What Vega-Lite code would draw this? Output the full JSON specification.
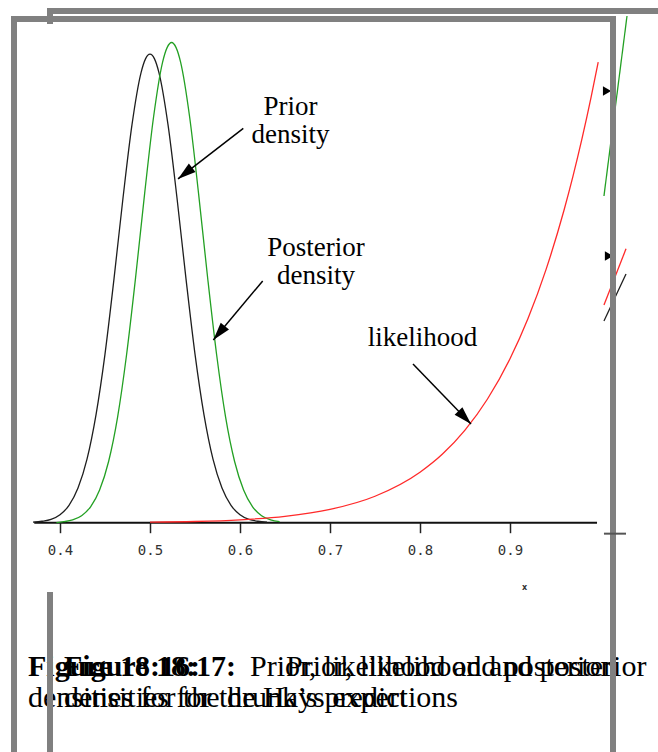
{
  "$schema": "https://vega.github.io/schema/vega-lite/v6.json",
  "width": 658,
  "height": 752,
  "autosize": {"type": "none"},
  "padding": 0,
  "background": "white",
  "config": {"view": {"stroke": null}},
  "datasets": {
    "curves": [
      {"series": "prior", "x": 0.37, "y": 0.01},
      {"series": "prior", "x": 0.38, "y": 0.03},
      {"series": "prior", "x": 0.39, "y": 0.07},
      {"series": "prior", "x": 0.40, "y": 0.17},
      {"series": "prior", "x": 0.41, "y": 0.37},
      {"series": "prior", "x": 0.42, "y": 0.74},
      {"series": "prior", "x": 0.43, "y": 1.36},
      {"series": "prior", "x": 0.44, "y": 2.31},
      {"series": "prior", "x": 0.45, "y": 3.61},
      {"series": "prior", "x": 0.46, "y": 5.22},
      {"series": "prior", "x": 0.47, "y": 6.95},
      {"series": "prior", "x": 0.48, "y": 8.52},
      {"series": "prior", "x": 0.49, "y": 9.63},
      {"series": "prior", "x": 0.495, "y": 9.93},
      {"series": "prior", "x": 0.50, "y": 10.03},
      {"series": "prior", "x": 0.505, "y": 9.93},
      {"series": "prior", "x": 0.51, "y": 9.63},
      {"series": "prior", "x": 0.52, "y": 8.52},
      {"series": "prior", "x": 0.53, "y": 6.95},
      {"series": "prior", "x": 0.54, "y": 5.22},
      {"series": "prior", "x": 0.55, "y": 3.61},
      {"series": "prior", "x": 0.56, "y": 2.31},
      {"series": "prior", "x": 0.57, "y": 1.36},
      {"series": "prior", "x": 0.58, "y": 0.74},
      {"series": "prior", "x": 0.59, "y": 0.37},
      {"series": "prior", "x": 0.60, "y": 0.17},
      {"series": "prior", "x": 0.61, "y": 0.07},
      {"series": "prior", "x": 0.62, "y": 0.03},
      {"series": "prior", "x": 0.63, "y": 0.01},
      {"series": "posterior", "x": 0.396, "y": 0.0},
      {"series": "posterior", "x": 0.404, "y": 0.02},
      {"series": "posterior", "x": 0.414, "y": 0.06},
      {"series": "posterior", "x": 0.424, "y": 0.15},
      {"series": "posterior", "x": 0.434, "y": 0.34},
      {"series": "posterior", "x": 0.444, "y": 0.70},
      {"series": "posterior", "x": 0.454, "y": 1.31},
      {"series": "posterior", "x": 0.464, "y": 2.26},
      {"series": "posterior", "x": 0.474, "y": 3.60},
      {"series": "posterior", "x": 0.484, "y": 5.25},
      {"series": "posterior", "x": 0.494, "y": 7.04},
      {"series": "posterior", "x": 0.504, "y": 8.69},
      {"series": "posterior", "x": 0.514, "y": 9.86},
      {"series": "posterior", "x": 0.519, "y": 10.17},
      {"series": "posterior", "x": 0.524, "y": 10.28},
      {"series": "posterior", "x": 0.529, "y": 10.17},
      {"series": "posterior", "x": 0.534, "y": 9.86},
      {"series": "posterior", "x": 0.544, "y": 8.69},
      {"series": "posterior", "x": 0.554, "y": 7.04},
      {"series": "posterior", "x": 0.564, "y": 5.25},
      {"series": "posterior", "x": 0.574, "y": 3.60},
      {"series": "posterior", "x": 0.584, "y": 2.26},
      {"series": "posterior", "x": 0.594, "y": 1.31},
      {"series": "posterior", "x": 0.604, "y": 0.70},
      {"series": "posterior", "x": 0.614, "y": 0.34},
      {"series": "posterior", "x": 0.624, "y": 0.15},
      {"series": "posterior", "x": 0.634, "y": 0.06},
      {"series": "posterior", "x": 0.644, "y": 0.02},
      {"series": "likelihood", "x": 0.50, "y": 0.01},
      {"series": "likelihood", "x": 0.55, "y": 0.025},
      {"series": "likelihood", "x": 0.60, "y": 0.061},
      {"series": "likelihood", "x": 0.65, "y": 0.135},
      {"series": "likelihood", "x": 0.70, "y": 0.284},
      {"series": "likelihood", "x": 0.75, "y": 0.566},
      {"series": "likelihood", "x": 0.80, "y": 1.081},
      {"series": "likelihood", "x": 0.825, "y": 1.470},
      {"series": "likelihood", "x": 0.85, "y": 1.981},
      {"series": "likelihood", "x": 0.875, "y": 2.647},
      {"series": "likelihood", "x": 0.90, "y": 3.508},
      {"series": "likelihood", "x": 0.92, "y": 4.370},
      {"series": "likelihood", "x": 0.94, "y": 5.418},
      {"series": "likelihood", "x": 0.96, "y": 6.688},
      {"series": "likelihood", "x": 0.97, "y": 7.418},
      {"series": "likelihood", "x": 0.98, "y": 8.220},
      {"series": "likelihood", "x": 0.99, "y": 9.098},
      {"series": "likelihood", "x": 0.998, "y": 9.861},
      {"series": "underlying posterior", "x": 1.0044, "y": 6.994},
      {"series": "underlying posterior", "x": 1.030, "y": 10.848},
      {"series": "underlying likelihood", "x": 1.0044, "y": 4.661},
      {"series": "underlying likelihood", "x": 1.0289, "y": 5.862},
      {"series": "underlying prior", "x": 1.0044, "y": 4.318},
      {"series": "underlying prior", "x": 1.0289, "y": 5.324}
    ],
    "baseline": [{"x": 0.3714, "x2": 0.9967, "y": 0}],
    "arrows": [
      {"label": "Prior density", "x": 0.60367, "y": 8.443, "x2": 0.53111, "y2": 7.359},
      {"label": "Posterior density", "x": 0.62522, "y": 5.175, "x2": 0.57033, "y2": 3.912},
      {"label": "likelihood", "x": 0.79222, "y": 3.398, "x2": 0.85667, "y2": 2.113}
    ],
    "underArrowheads": [
      {"x": 1.0078, "y": 9.243},
      {"x": 1.0100, "y": 5.710}
    ],
    "annotations": [
      {"label": "Prior\ndensity", "x": 0.65611, "y": 8.728},
      {"label": "Posterior\ndensity", "x": 0.68444, "y": 5.710},
      {"label": "likelihood", "x": 0.80278, "y": 3.783}
    ],
    "captionBold": [
      {"text": "Figure 18:16:", "x": 0.36444, "y": -3.282},
      {"text": "Figure 18:17:", "x": 0.40444, "y": -3.282}
    ],
    "captionText": [
      {"text": "Prior, likelihood and posterior", "x": 0.61111, "y": -3.282},
      {"text": "Prior, likelihood and posterior", "x": 0.65111, "y": -3.282},
      {"text": "densities for the drunk’s predictions", "x": 0.36444, "y": -3.946},
      {"text": "densities for the Hays expert", "x": 0.40444, "y": -3.946}
    ],
    "frames": [
      {"part": "front top", "x": 0.34556, "x2": 1.01778, "y": 10.784, "y2": 10.784},
      {"part": "front left", "x": 0.34889, "x2": 0.34889, "y": 10.848, "y2": -5.2},
      {"part": "front right", "x": 1.01444, "x2": 1.01444, "y": 10.848, "y2": -5.2},
      {"part": "back top", "x": 0.38556, "x2": 1.08, "y": 10.955, "y2": 10.955},
      {"part": "back left notch", "x": 0.38889, "x2": 0.38889, "y": 11.019, "y2": 10.676},
      {"part": "back left lower", "x": 0.38889, "x2": 0.38889, "y": -1.486, "y2": -5.2}
    ],
    "backTick": [{"x": 1.0044, "x2": 1.0289, "y": -0.2355, "y2": -0.2355}]
  },
  "encoding": {
    "x": {
      "field": "x",
      "type": "quantitative",
      "scale": {"domain": [0.333333, 1.064444], "nice": false, "zero": false},
      "axis": {
        "values": [0.4, 0.5, 0.6, 0.7, 0.8, 0.9],
        "format": ".1f",
        "offset": -229.3,
        "domain": false,
        "grid": false,
        "ticks": true,
        "tickSize": 10,
        "tickWidth": 1.5,
        "tickColor": "#222222",
        "labelFont": "DejaVu Sans Mono",
        "labelFontSize": 14,
        "labelColor": "#333333",
        "labelPadding": 11,
        "title": "x",
        "titleFont": "DejaVu Sans",
        "titleFontSize": 8,
        "titleFontWeight": "bold",
        "titleColor": "#333333",
        "titleBaseline": "alphabetic",
        "titleX": 524,
        "titleY": 67
      }
    },
    "y": {
      "field": "y",
      "type": "quantitative",
      "scale": {"domain": [-4.91, 11.19], "nice": false, "zero": false},
      "axis": null
    }
  },
  "layer": [
    {
      "data": {"name": "underArrowheads"},
      "mark": {"type": "point", "shape": "triangle-right", "filled": true, "size": 90, "color": "#000000", "opacity": 1}
    },
    {
      "data": {"name": "baseline"},
      "mark": {"type": "rule", "color": "#111111", "strokeWidth": 2},
      "encoding": {"x2": {"field": "x2"}}
    },
    {
      "data": {"name": "curves"},
      "mark": {"type": "line", "interpolate": "monotone", "strokeWidth": 1.3},
      "encoding": {
        "color": {
          "field": "series",
          "type": "nominal",
          "scale": {
            "domain": ["prior", "posterior", "likelihood", "underlying posterior", "underlying likelihood", "underlying prior"],
            "range": ["#1e1e1e", "#23a023", "#ff2a2a", "#23a023", "#ff2a2a", "#1e1e1e"]
          },
          "legend": null
        },
        "order": {"field": "x", "type": "quantitative"}
      }
    },
    {
      "data": {"name": "arrows"},
      "mark": {"type": "rule", "color": "#000000", "strokeWidth": 1.5},
      "encoding": {"x2": {"field": "x2"}, "y2": {"field": "y2"}}
    },
    {
      "data": {"name": "arrows"},
      "transform": [{"filter": "datum.label === 'Prior density'"}],
      "mark": {"type": "point", "shape": "M0,0L-0.3,1L0.3,1Z", "size": 1296, "filled": true, "color": "#000000", "opacity": 1, "angle": 232},
      "encoding": {"x": {"field": "x2", "type": "quantitative"}, "y": {"field": "y2", "type": "quantitative"}}
    },
    {
      "data": {"name": "arrows"},
      "transform": [{"filter": "datum.label === 'Posterior density'"}],
      "mark": {"type": "point", "shape": "M0,0L-0.3,1L0.3,1Z", "size": 1296, "filled": true, "color": "#000000", "opacity": 1, "angle": 220},
      "encoding": {"x": {"field": "x2", "type": "quantitative"}, "y": {"field": "y2", "type": "quantitative"}}
    },
    {
      "data": {"name": "arrows"},
      "transform": [{"filter": "datum.label === 'likelihood'"}],
      "mark": {"type": "point", "shape": "M0,0L-0.3,1L0.3,1Z", "size": 1296, "filled": true, "color": "#000000", "opacity": 1, "angle": 136},
      "encoding": {"x": {"field": "x2", "type": "quantitative"}, "y": {"field": "y2", "type": "quantitative"}}
    },
    {
      "data": {"name": "annotations"},
      "mark": {"type": "text", "font": "Liberation Serif", "fontSize": 27, "align": "center", "baseline": "alphabetic", "lineBreak": "\n", "lineHeight": 28, "color": "#000000"},
      "encoding": {"text": {"field": "label"}}
    },
    {
      "data": {"name": "captionBold"},
      "mark": {"type": "text", "font": "Liberation Serif", "fontSize": 30, "fontWeight": "bold", "align": "left", "baseline": "alphabetic", "color": "#000000"},
      "encoding": {"text": {"field": "text"}}
    },
    {
      "data": {"name": "captionText"},
      "mark": {"type": "text", "font": "Liberation Serif", "fontSize": 30, "align": "left", "baseline": "alphabetic", "color": "#000000"},
      "encoding": {"text": {"field": "text"}}
    },
    {
      "data": {"name": "frames"},
      "mark": {"type": "rule", "color": "#808080", "strokeWidth": 6},
      "encoding": {"x2": {"field": "x2"}, "y2": {"field": "y2"}}
    },
    {
      "data": {"name": "backTick"},
      "mark": {"type": "rule", "color": "#555555", "strokeWidth": 2},
      "encoding": {"x2": {"field": "x2"}, "y2": {"field": "y2"}}
    }
  ]
}
